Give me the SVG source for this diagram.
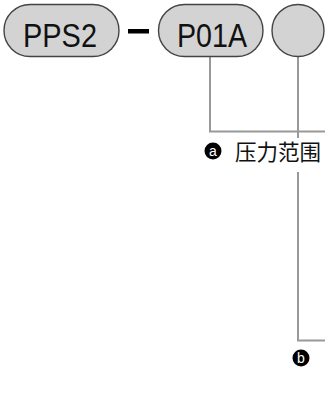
<svg xmlns="http://www.w3.org/2000/svg" width="325" height="401" viewBox="0 0 325 401">
<style>
.pill{fill:#d3d3d3;stroke:#444;stroke-width:1.4}
.ptxt{font-family:"Liberation Sans",Arial,sans-serif;font-size:34px;fill:#111;text-anchor:middle}
.conn{fill:none;stroke:#999;stroke-width:2}
.badge{fill:#000}
.btxt{font-family:"Liberation Sans",Arial,sans-serif;font-size:14px;fill:#fff;text-anchor:middle}
.lbl{font-family:"Noto Sans CJK SC","Liberation Sans",sans-serif;font-size:21.5px;fill:#111}
</style>
<rect width="325" height="401" fill="#fff"/>
<g id="connectors">
<path class="conn" d="M210 57 V131.5 H325"/>
<path class="conn" d="M298 57 V138 M298 172 V340.5 H325"/>
</g>
<g id="node-pps2">
<rect class="pill" x="4" y="4.5" width="115" height="52" rx="26"/>
<text class="ptxt" x="60" y="46.5" textLength="74" lengthAdjust="spacingAndGlyphs">PPS2</text>
</g>
<g id="dash">
<rect x="128" y="29" width="21" height="4.5" fill="#000"/>
</g>
<g id="node-p01a">
<rect class="pill" x="158.5" y="4.5" width="104.5" height="52" rx="26"/>
<text class="ptxt" x="212" y="46.5" textLength="70" lengthAdjust="spacingAndGlyphs">P01A</text>
</g>
<g id="node-blank">
<circle class="pill" cx="298" cy="30.5" r="26"/>
</g>
<g id="label-a">
<circle class="badge" cx="213" cy="151" r="8.5"/>
<text class="btxt" x="213" y="156">a</text>
<text class="lbl" x="235" y="160">压力范围</text>
</g>
<g id="label-b">
<circle class="badge" cx="301" cy="358" r="8.5"/>
<text class="btxt" x="301" y="363">b</text>
</g>
</svg>
